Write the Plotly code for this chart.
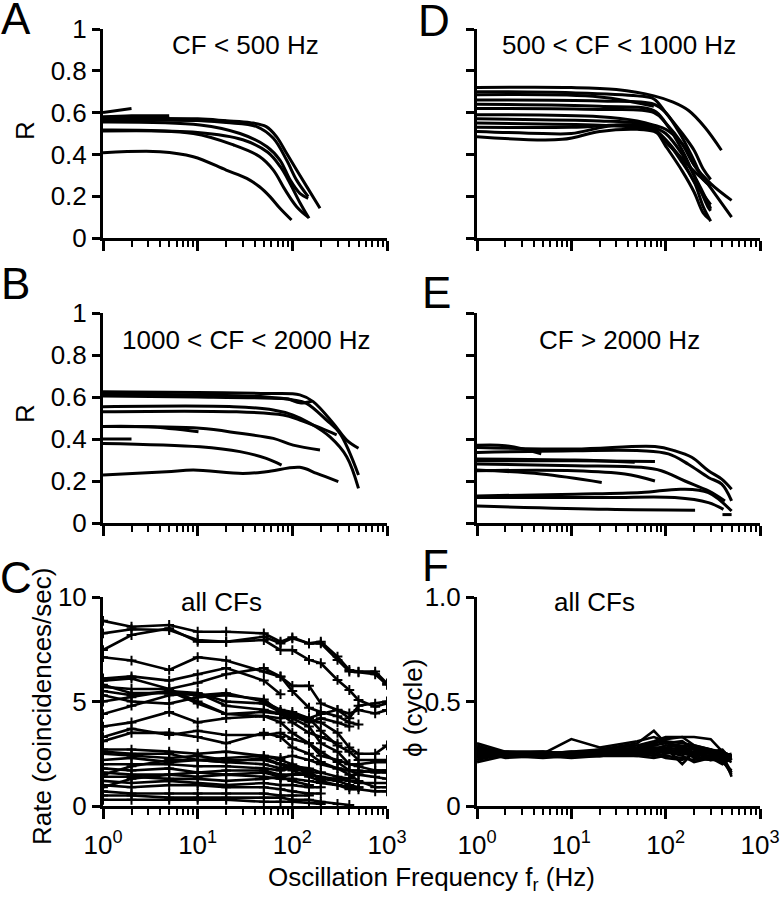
import plotly.graph_objects as go

# ---------------- DATA ----------------
# Panel A: CF < 500 Hz  (x = oscillation frequency Hz, y = R)
A_x = [
    [1, 2],
    [1, 2, 5],
    [1, 3, 5],
    [1, 5, 20],
    [1, 10, 20, 36, 53, 68, 87, 111, 142, 196],
    [1, 10, 20, 42, 63, 87, 111, 147],
    [1, 10.6, 28, 54, 74, 95, 120, 147],
    [1, 9, 24, 45, 63, 84, 111, 147],
    [1, 10, 30, 55, 75, 95, 120, 150],
    [1, 4, 9, 20, 33, 45, 58, 74, 98],
]
A_y = [
    [0.60, 0.62],
    [0.58, 0.585, 0.585],
    [0.575, 0.58, 0.575],
    [0.565, 0.565, 0.56],
    [0.57, 0.57, 0.561, 0.552, 0.533, 0.485, 0.405, 0.325, 0.246, 0.142],
    [0.565, 0.562, 0.552, 0.533, 0.477, 0.373, 0.277, 0.198],
    [0.555, 0.541, 0.50, 0.437, 0.373, 0.277, 0.214, 0.19],
    [0.517, 0.50, 0.445, 0.39, 0.325, 0.23, 0.15, 0.10],
    [0.512, 0.505, 0.47, 0.41, 0.34, 0.26, 0.17, 0.094],
    [0.408, 0.413, 0.389, 0.325, 0.285, 0.245, 0.198, 0.142, 0.086],
]

# Panel D: 500 < CF < 1000 Hz
D_x = [
    [1, 10, 30, 75, 120, 175, 260, 390],
    [1, 10, 50, 75, 100, 150, 200, 250, 300],
    [1, 20, 75],
    [1, 20, 75, 100, 150, 200, 250, 300],
    [1, 20, 75, 100, 150, 200, 280, 300],
    [1, 20, 75, 100, 150, 200, 300, 500],
    [1, 20, 50, 75, 100, 150, 200, 300, 500],
    [1, 20, 50, 75, 100, 150, 200, 280, 300],
    [1, 20, 50, 75, 100, 150, 200, 250, 300],
    [1, 10, 50, 75, 100, 150, 200, 250, 290],
    [1, 5, 10, 30, 75, 100, 150, 200, 300],
    [1, 8, 20, 50, 75, 100, 150, 200, 300],
]
D_y = [
    [0.72, 0.72, 0.71, 0.68, 0.65, 0.61, 0.53, 0.42],
    [0.70, 0.695, 0.68, 0.665, 0.60, 0.50, 0.42, 0.33, 0.28],
    [0.685, 0.675, 0.63],
    [0.66, 0.655, 0.64, 0.60, 0.48, 0.37, 0.28, 0.25],
    [0.64, 0.63, 0.61, 0.55, 0.42, 0.30, 0.15, 0.13],
    [0.62, 0.615, 0.60, 0.55, 0.45, 0.35, 0.26, 0.18],
    [0.59, 0.58, 0.56, 0.54, 0.52, 0.45, 0.35, 0.24, 0.10],
    [0.57, 0.56, 0.55, 0.53, 0.50, 0.40, 0.30, 0.17, 0.14],
    [0.55, 0.54, 0.53, 0.52, 0.47, 0.36, 0.27, 0.15, 0.08],
    [0.53, 0.53, 0.54, 0.52, 0.44, 0.32, 0.22, 0.12, 0.09],
    [0.51, 0.50, 0.50, 0.54, 0.52, 0.46, 0.38, 0.32, 0.25],
    [0.485, 0.472, 0.51, 0.52, 0.51, 0.47, 0.37, 0.27, 0.16],
]

# Panel B: 1000 < CF < 2000 Hz
B_x = [
    [1, 53, 120, 166, 270, 375, 500],
    [1, 9.8, 53, 102, 141, 230, 318, 500],
    [1, 23.8, 63, 102, 154, 250, 375, 500],
    [1, 23.8, 80, 120, 181, 294],
    [1, 10, 50, 90, 120, 160],
    [1, 3, 10.2],
    [1, 10.6, 28, 63, 102, 196],
    [1, 2],
    [1, 10.6, 28, 53, 77],
    [1, 4.7, 9, 30, 53, 120, 181, 306],
]
B_y = [
    [0.625, 0.617, 0.61, 0.578, 0.475, 0.395, 0.356],
    [0.617, 0.61, 0.60, 0.586, 0.57, 0.49, 0.427, 0.229],
    [0.554, 0.554, 0.538, 0.514, 0.475, 0.41, 0.316, 0.165],
    [0.53, 0.53, 0.514, 0.49, 0.46, 0.42],
    [0.605, 0.60, 0.595, 0.59, 0.572, 0.58],
    [0.46, 0.458, 0.435],
    [0.459, 0.451, 0.427, 0.403, 0.371, 0.348],
    [0.40, 0.40],
    [0.379, 0.363, 0.34, 0.308, 0.276],
    [0.229, 0.244, 0.252, 0.236, 0.244, 0.265, 0.236, 0.197],
]

# Panel E: CF > 2000 Hz
E_x = [
    [1, 2, 4.8],
    [1, 10.9, 77, 125, 189, 284, 393, 500],
    [1, 10.9, 55, 107, 174, 284, 393, 500],
    [1, 10.9, 47],
    [1, 10.9, 77],
    [1, 10.9, 55, 90, 160, 284, 425],
    [1, 4.8, 21],
    [1, 10.9, 37, 77],
    [1, 10.9, 55, 147, 284, 500],
    [1, 24, 125, 284, 410],
    [1, 24, 205],
    [400, 500],
]
E_y = [
    [0.37, 0.368, 0.33],
    [0.36, 0.352, 0.364, 0.344, 0.313, 0.249, 0.209, 0.161],
    [0.336, 0.344, 0.344, 0.329, 0.28, 0.217, 0.185, 0.105],
    [0.305, 0.30, 0.289],
    [0.297, 0.297, 0.293],
    [0.281, 0.273, 0.265, 0.249, 0.20, 0.153, 0.105],
    [0.252, 0.233, 0.193],
    [0.249, 0.249, 0.233, 0.20],
    [0.129, 0.137, 0.145, 0.161, 0.145, 0.057],
    [0.121, 0.121, 0.121, 0.097, 0.065],
    [0.081, 0.065, 0.061],
    [0.04, 0.04],
]

# Panel C: coincidence rate, all CFs
C_freq = [1, 2, 5, 10, 20, 50, 75, 100, 150, 200, 300, 400, 500, 750, 1000]
C_rate = [
    [8.86, 8.58, 8.66, 8.34, 8.34, 8.26, 7.86, 8.07, 7.78, 7.86, 7.15, 6.51, 6.43, 6.43, 5.87],
    [8.26, 8.46, 8.42, 7.94, 7.86, 7.94, 7.46, 7.46, 6.99, 6.83, 6.03, 5.55, 5.07, 4.75, 4.91],
    [7.46, 8.18, 8.50, 7.86, 7.86, 8.10, 7.78, 8.02, 7.78, 7.78, 6.99, 6.43, 6.40, 6.30, 5.80],
    [7.12, 6.96, 6.51, 7.12, 6.96, 6.43, 6.19, 5.75, 5.75, 4.91, 4.59, 4.43, 4.59, 4.43, 4.59],
    [6.10, 6.20, 6.00, 6.30, 6.60, 6.00, 5.35],
    [6.00, 6.10, 5.60, 5.90, 6.30, 6.60, 6.20, 5.50, 4.70, 4.50, 4.30, 4.00, 3.90],
    [5.80, 5.40, 5.40, 5.30, 5.40, 5.00, 4.60, 4.50, 4.20, 4.40, 4.60, 4.20, 4.80, 4.90, 5.00],
    [5.50, 5.30, 5.50, 5.40, 5.00, 4.90, 4.50, 4.30, 4.10, 4.00, 3.50, 2.80, 2.50, 2.50, 2.90],
    [5.30, 5.00, 4.90, 5.20, 5.30, 5.10, 4.50, 4.40, 4.20, 3.60, 2.90, 2.60, 2.20, 2.20, 2.20],
    [5.00, 5.20, 5.50, 4.90, 4.40, 4.30, 4.20, 4.30, 4.00, 4.20, 4.00, 3.80],
    [4.40, 4.80, 5.30, 5.40, 4.80, 4.60, 4.40, 4.20, 3.80, 3.00, 2.60, 2.00, 1.90, 1.70, 1.70],
    [3.80, 4.00, 4.50, 4.00, 4.20, 4.30, 4.00, 3.50, 3.00, 2.60, 2.10, 1.70, 1.50, 1.40, 1.30],
    [3.10, 3.50, 3.50, 3.30, 3.00, 3.50, 3.30, 2.80, 2.50, 2.10, 1.80, 1.50, 1.20, 0.90, 0.90],
    [3.30, 3.70, 3.40, 3.60, 3.40, 3.40, 3.50, 3.20, 3.00, 2.40, 2.20, 2.00, 2.00, 2.10, 2.10],
    [2.70, 2.70, 2.60, 2.50, 2.60, 2.40, 2.30, 2.40, 2.20, 2.00, 1.80, 1.70, 1.70, 1.60, 1.60],
    [2.50, 2.40, 2.30, 2.40, 2.20, 2.20, 2.00, 1.90, 1.80, 1.60],
    [2.20, 2.30, 2.10, 2.20, 2.10, 2.00, 1.80, 1.90, 1.70],
    [2.00, 2.00, 2.00, 1.90, 1.90, 1.80, 1.70, 1.80, 1.60, 1.30, 1.20, 1.00, 0.90],
    [1.80, 1.70, 1.80, 1.60, 1.70, 1.70, 1.50, 1.50, 1.50, 1.40, 1.30, 1.20, 1.10, 1.10, 1.10],
    [1.60, 1.50, 1.50, 1.40, 1.50, 1.40, 1.30, 1.30, 1.20, 1.10, 1.00, 0.90, 0.90],
    [1.40, 1.40, 1.30, 1.30, 1.20, 1.30, 1.40, 1.50, 1.60, 1.60, 1.40, 1.30, 1.60, 1.70, 1.70],
    [1.20, 1.10, 1.20, 1.10, 1.00, 1.10, 1.00, 1.00, 0.90, 0.90],
    [1.00, 0.90, 1.00, 1.00, 0.90, 0.90, 0.80, 0.70, 0.60, 0.60],
    [0.70, 0.60, 0.60, 0.60, 0.60, 0.60, 0.50, 0.50, 0.50],
    [0.50, 0.50, 0.40, 0.40, 0.40, 0.40, 0.40, 0.30, 0.30, 0.20, 0.10, 0.05],
    [0.30, 0.30, 0.30, 0.30, 0.30, 0.20, 0.20, 0.20, 0.15, 0.10],
    [1.50, 1.90, 2.20, 2.20, 2.10, 2.30, 2.00, 1.70, 1.40, 1.20],
    [2.60, 2.50, 2.50, 2.20, 2.30, 2.40, 2.20, 2.00, 1.70, 1.20, 1.00, 0.80, 0.80, 0.70, 0.70],
    [0.90, 1.30, 1.50, 1.60, 1.50, 1.60, 1.40, 1.20, 1.00],
    [5.70, 5.60, 5.60, 5.00, 4.40, 4.50, 4.40, 4.00, 3.50, 3.30, 3.00],
]

# Panel F: phase, all CFs
F_freq = [1, 2, 5, 10, 20, 50, 75, 100, 150, 200, 300, 400, 500]
F_phase = [
    [0.30, 0.26, 0.25, 0.26, 0.27, 0.30, 0.36, 0.30, 0.29, 0.28, 0.26, 0.24, 0.23],
    [0.27, 0.25, 0.25, 0.32, 0.28, 0.31, 0.33, 0.31, 0.30, 0.29, 0.27, 0.25, 0.22],
    [0.26, 0.25, 0.26, 0.25, 0.27, 0.29, 0.31, 0.33, 0.33, 0.33, 0.32, 0.26, 0.24],
    [0.28, 0.24, 0.25, 0.25, 0.26, 0.28, 0.30, 0.32, 0.33, 0.29, 0.27, 0.24, 0.16],
    [0.25, 0.24, 0.24, 0.25, 0.25, 0.27, 0.28, 0.28, 0.20, 0.26, 0.25, 0.22, 0.15],
    [0.22, 0.25, 0.24, 0.24, 0.25, 0.26, 0.27, 0.29, 0.28, 0.27, 0.26, 0.25, 0.14],
    [0.21, 0.24, 0.25, 0.25, 0.24, 0.25, 0.26, 0.27, 0.26, 0.28, 0.27, 0.26, 0.24],
    [0.29, 0.25, 0.24, 0.24, 0.25, 0.26, 0.25, 0.26, 0.27, 0.25, 0.23, 0.20, 0.23],
    [0.27, 0.26, 0.26, 0.25, 0.25, 0.25, 0.24, 0.25, 0.26, 0.24, 0.26, 0.27, 0.22],
    [0.24, 0.24, 0.23, 0.24, 0.24, 0.24, 0.23, 0.24, 0.23, 0.22, 0.24, 0.23, 0.21],
    [0.26, 0.23, 0.24, 0.24, 0.24, 0.25, 0.27, 0.26, 0.24, 0.21, 0.23, 0.21, 0.17],
    [0.25, 0.25, 0.25, 0.24, 0.26, 0.27, 0.29, 0.30, 0.31, 0.27, 0.25, 0.24, 0.23],
    [0.23, 0.24, 0.24, 0.23, 0.24, 0.26, 0.25, 0.23, 0.22, 0.25, 0.24, 0.22, 0.24],
    [0.28, 0.25, 0.25, 0.26, 0.25, 0.26, 0.28, 0.27, 0.25, 0.24, 0.22, 0.24, 0.25],
    [0.26, 0.24, 0.25, 0.24, 0.25, 0.24, 0.26, 0.28, 0.27, 0.26, 0.25, 0.23, 0.23],
    [0.24, 0.25, 0.24, 0.25, 0.26, 0.28, 0.30, 0.31, 0.27, 0.23, 0.22, 0.22, 0.24],
]

panel_titles = ["CF < 500 Hz", "500 < CF < 1000 Hz", "1000 < CF < 2000 Hz",
                "CF > 2000 Hz", "all CFs", "all CFs"]
panel_letters = ["A", "D", "B", "E", "C", "F"]
R_ticks = [0, 0.2, 0.4, 0.6, 0.8, 1]
R_ticktext = ["0", "0.2", "0.4", "0.6", "0.8", "1"]
rate_ticks = [0, 5, 10]
phase_ticks = [0, 0.5, 1.0]
phase_ticktext = ["0", "0.5", "1.0"]
x_ticks = [1, 10, 100, 1000]
x_ticktext = ["10<sup>0</sup>", "10<sup>1</sup>", "10<sup>2</sup>", "10<sup>3</sup>"]
x_minor = [m * 10 ** d for d in range(3) for m in range(2, 10)]

# ---------------- FIGURE ----------------
W, H = 780, 900
FONT = "Liberation Sans, Arial, Helvetica, sans-serif"
fig = go.Figure()

def px_x(p):
    return p / W

def px_y(p):
    return 1 - p / H

LEFT = [px_x(103), px_x(387)]
RIGHT = [px_x(477), px_x(760)]
ROWS = [[px_y(238), px_y(29)], [px_y(523), px_y(313)], [px_y(806), px_y(597)]]

def add_smooth(xs, ys, ax):
    for x, y in zip(xs, ys):
        fig.add_trace(go.Scatter(x=x, y=y, mode="lines", xaxis="x" + ax, yaxis="y" + ax,
                                 line=dict(color="black", width=3, shape="spline", smoothing=1.0),
                                 showlegend=False, hoverinfo="skip"))

add_smooth(A_x, A_y, "")
add_smooth(D_x, D_y, "2")
add_smooth(B_x, B_y, "3")
add_smooth(E_x, E_y, "4")

for r in C_rate:
    fig.add_trace(go.Scatter(x=C_freq[:len(r)], y=r, mode="lines+markers", xaxis="x5", yaxis="y5",
                             line=dict(color="black", width=2.6),
                             marker=dict(symbol="cross-thin", size=7, line=dict(color="black", width=2)),
                             showlegend=False, hoverinfo="skip"))
for p in F_phase:
    fig.add_trace(go.Scatter(x=F_freq[:len(p)], y=p, mode="lines", xaxis="x6", yaxis="y6",
                             line=dict(color="black", width=2.6),
                             showlegend=False, hoverinfo="skip"))

def xaxis(dom, anchor, labels):
    return dict(type="log", range=[0, 3], domain=dom, anchor=anchor, automargin=False,
                showline=True, linecolor="black", linewidth=3, showgrid=False, zeroline=False,
                ticks="outside", ticklen=10, tickwidth=3, tickcolor="black",
                tickmode="array", tickvals=x_ticks, ticktext=x_ticktext, ticklabelstandoff=4,
                showticklabels=labels, tickfont=dict(size=26, color="black", family=FONT),
                minor=dict(tickmode="array", tickvals=x_minor, ticks="outside", ticklen=6,
                           tickwidth=2, tickcolor="black", showgrid=False),
                fixedrange=True)

def yaxis(dom, anchor, rng, vals, text, labels):
    return dict(range=rng, domain=dom, anchor=anchor, automargin=False,
                showline=True, linecolor="black", linewidth=3, showgrid=False, zeroline=False,
                ticks="outside", ticklen=8, tickwidth=3, tickcolor="black",
                tickmode="array", tickvals=vals, ticktext=text,
                showticklabels=labels, tickfont=dict(size=26, color="black", family=FONT),
                fixedrange=True)

fig.update_layout(
    width=W, height=H, autosize=False, margin=dict(l=0, r=0, t=0, b=0, pad=0),
    paper_bgcolor="white", plot_bgcolor="white", showlegend=False,
    font=dict(family=FONT, color="black", size=26),
    xaxis=xaxis(LEFT, "y", False), yaxis=yaxis(ROWS[0], "x", [0, 1], R_ticks, R_ticktext, True),
    xaxis2=xaxis(RIGHT, "y2", False), yaxis2=yaxis(ROWS[0], "x2", [0, 1], R_ticks, R_ticktext, False),
    xaxis3=xaxis(LEFT, "y3", False), yaxis3=yaxis(ROWS[1], "x3", [0, 1], R_ticks, R_ticktext, True),
    xaxis4=xaxis(RIGHT, "y4", False), yaxis4=yaxis(ROWS[1], "x4", [0, 1], R_ticks, R_ticktext, False),
    xaxis5=xaxis(LEFT, "y5", True), yaxis5=yaxis(ROWS[2], "x5", [0, 10], rate_ticks, [str(v) for v in rate_ticks], True),
    xaxis6=xaxis(RIGHT, "y6", True), yaxis6=yaxis(ROWS[2], "x6", [0, 1], phase_ticks, phase_ticktext, True),
)

def ann(text, x, y, size=26, angle=0):
    fig.add_annotation(text=text, x=px_x(x), y=px_y(y), xref="paper", yref="paper",
                       xanchor="center", yanchor="middle", showarrow=False, textangle=angle,
                       font=dict(size=size, color="black", family=FONT))

# panel titles
title_pos = [(245, 45), (619, 45), (246, 340), (619, 340), (221, 602), (594, 602)]
for t, (x, y) in zip(panel_titles, title_pos):
    ann(t, x, y)

# panel letters
letter_pos = [(16, 19), (434, 20), (15, 283), (436, 292), (16, 577), (435, 565)]
for t, (x, y) in zip(panel_letters, letter_pos):
    ann(t, x, y, size=44)

# axis titles
ann("R", 25, 130, angle=-90)
ann("R", 25, 413, angle=-90)
ann("Rate (coincidences/sec)", 42, 707, angle=-90)
ann("ϕ (cycle)", 413, 708, angle=-90)
ann("Oscillation Frequency f<sub>r</sub> (Hz)", 431, 878)

fig.write_html("out.html", config={"displayModeBar": False},
               post_script="document.body.style.margin='0px';document.body.style.overflow='hidden';")
